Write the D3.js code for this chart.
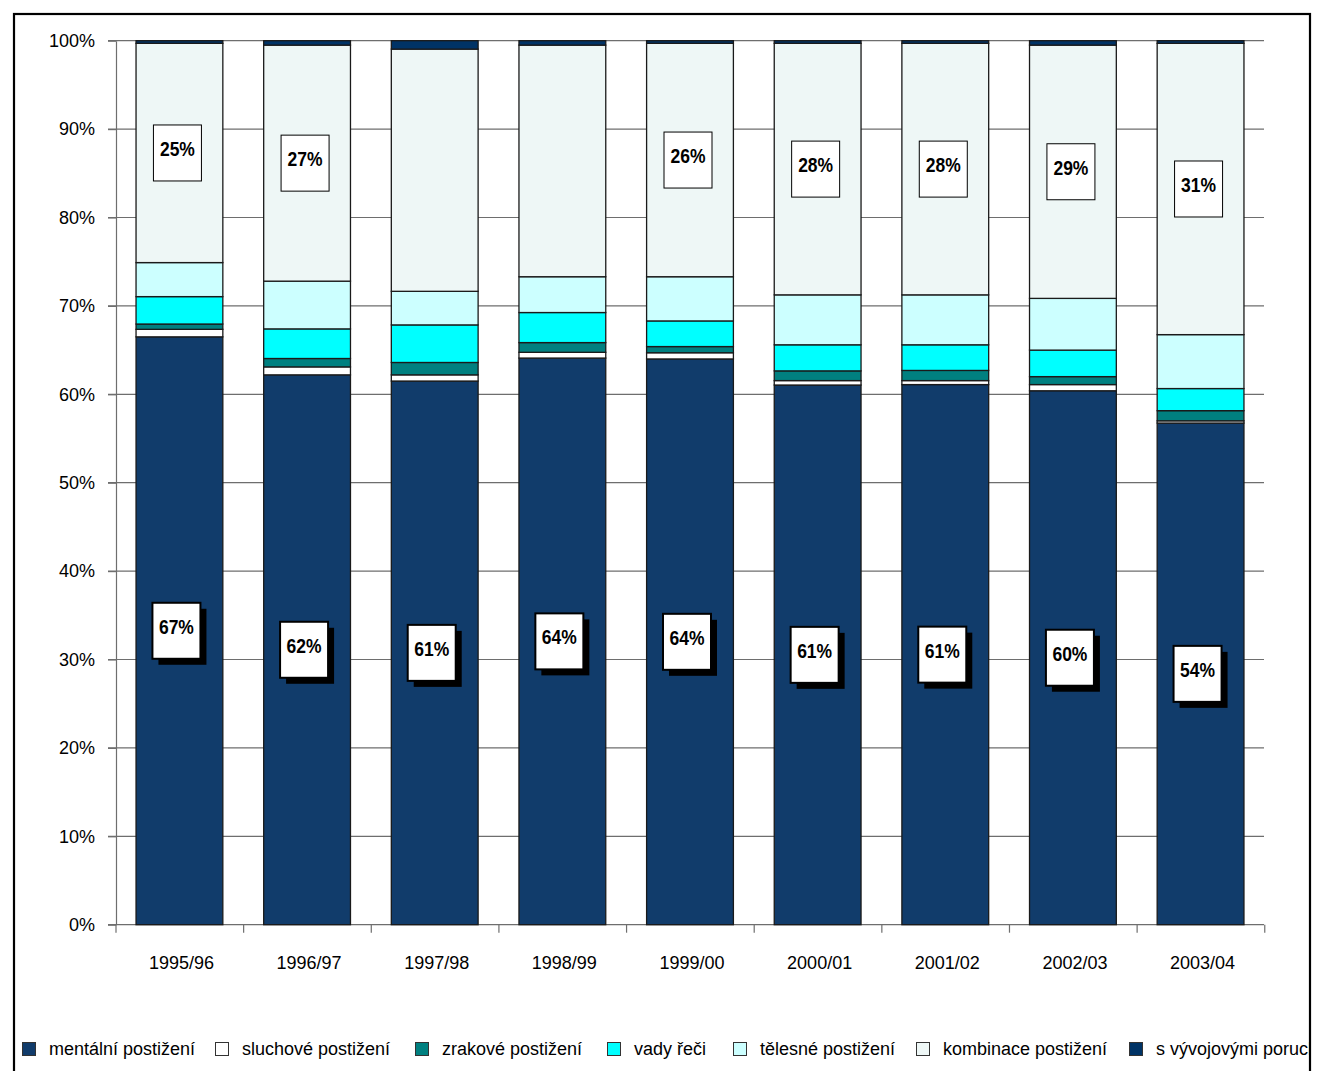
<!DOCTYPE html>
<html><head><meta charset="utf-8">
<script src="https://cdn.jsdelivr.net/npm/d3@7/dist/d3.min.js"></script>
<style>
body{margin:0;background:#fff;}
svg{display:block;}
text{font-family:"Liberation Sans",Arial,sans-serif;}
</style></head>
<body>
<svg id="chart" width="1325" height="1071"></svg>
<script>
// ---- data ----
const categories = ["1995/96","1996/97","1997/98","1998/99","1999/00","2000/01","2001/02","2002/03","2003/04"];
const seriesNames = ["mentální postižení","sluchové postižení","zrakové postižení","vady řeči","tělesné postižení","kombinace postižení","s vývojovými poruchami učení"];
const mental      = [66.5, 62.2, 61.5, 64.1, 64.0, 61.05, 61.1, 60.4, 56.75];
const hearing     = [0.85, 0.9, 0.7, 0.65, 0.7, 0.5, 0.45, 0.7, 0.25];
const visual      = [0.6, 0.95, 1.4, 1.1, 0.7, 1.1, 1.15, 0.9, 1.15];
const speech      = [3.1, 3.35, 4.25, 3.4, 2.9, 2.95, 2.9, 3.0, 2.5];
const physical    = [3.85, 5.4, 3.8, 4.05, 5.0, 5.65, 5.65, 5.85, 6.1];
const combined    = [24.8, 26.7, 27.4, 26.2, 26.4, 28.45, 28.45, 28.65, 32.95];
const developmental = [0.3, 0.5, 0.95, 0.5, 0.3, 0.3, 0.3, 0.5, 0.3];
const mentalLabels   = ["67%","62%","61%","64%","64%","61%","61%","60%","54%"];
const combinedLabels = ["25%","27%",null,null,"26%","28%","28%","29%","31%"];
const yTicks = [0,10,20,30,40,50,60,70,80,90,100];

// ---- styles / layout ----
const colors = ["#113c6b","#ffffff","#008080","#00ffff","#ccffff","#eef7f6","#003366"];
const legendX = [22,215,415,607,733,916,1129];

const seriesArrays = [mental,hearing,visual,speech,physical,combined,developmental];
const keys = seriesNames;
const rows = categories.map((c,i)=>{
  const r={cat:c};
  keys.forEach((k,j)=>r[k]=seriesArrays[j][i]);
  return r;
});
const stack = d3.stack().keys(keys)(rows);

const svg = d3.select("#chart");
const x = d3.scaleBand().domain(categories).range([116,1264]).paddingInner(0.32).paddingOuter(0.157);
const y = d3.scaleLinear().domain([0,100]).range([924.7,40.7]);
const step = x.step();

// outer frame
svg.append("rect").attr("x",14).attr("y",14).attr("width",1296).attr("height",1120)
  .attr("fill","none").attr("stroke","#000").attr("stroke-width",2.2);

// gridlines
svg.append("g").selectAll("line").data(yTicks.filter(d=>d>0)).join("line")
  .attr("x1",108).attr("x2",1264).attr("y1",d=>y(d)).attr("y2",d=>y(d))
  .attr("stroke","#6e6e6e").attr("stroke-width",1.2);

// y axis
const yAxis = svg.append("g").attr("transform","translate(116,0)")
  .call(d3.axisLeft(y).tickValues(yTicks).tickFormat(d=>d+"%").tickSize(8).tickSizeOuter(0));
yAxis.select(".domain").attr("stroke","#6e6e6e").attr("stroke-width",1.2);
yAxis.selectAll(".tick line").attr("stroke","#6e6e6e").attr("stroke-width",1.2);
yAxis.selectAll(".tick text").attr("x",-21).attr("font-size",18).attr("fill","#000")
  .style("font-family","'Liberation Sans',Arial,sans-serif");

// x axis baseline + tick marks at band edges
svg.append("line").attr("x1",108).attr("x2",1264).attr("y1",y(0)).attr("y2",y(0))
  .attr("stroke","#6e6e6e").attr("stroke-width",1.2);
const edges = d3.range(categories.length+1).map(i=>x.range()[0]+i*step);
svg.append("g").selectAll("line").data(edges).join("line")
  .attr("x1",d=>d).attr("x2",d=>d).attr("y1",y(0)).attr("y2",y(0)+8)
  .attr("stroke","#6e6e6e").attr("stroke-width",1.2);
svg.append("g").selectAll("text").data(categories).join("text")
  .attr("x",d=>x(d)+x.bandwidth()/2+2).attr("y",969)
  .attr("text-anchor","middle").attr("font-size",18).attr("fill","#000").text(d=>d);

// bars
stack.forEach((s,j)=>{
  svg.append("g").selectAll("rect").data(s).join("rect")
    .attr("x",d=>x(d.data.cat)).attr("width",x.bandwidth())
    .attr("y",d=>y(d[1])).attr("height",d=>y(d[0])-y(d[1]))
    .attr("fill",colors[j]).attr("stroke","#1a1a1a").attr("stroke-width",1.3);
});

// labels for kombinace (top)
const bw=48, bh=56;
const combS = stack[5];
combS.forEach((d,i)=>{
  if(!combinedLabels[i]) return;
  const cx = x(d.data.cat)+x.bandwidth()/2-2;
  const cy = (y(d[0])+y(d[1]))/2;
  svg.append("rect").attr("x",cx-bw/2).attr("y",cy-bh/2).attr("width",bw).attr("height",bh)
    .attr("fill","#fff").attr("stroke","#000").attr("stroke-width",1);
  svg.append("text").attr("x",cx).attr("y",cy-4).attr("dy","0.35em")
    .attr("text-anchor","middle").attr("font-size",20).attr("font-weight","bold")
    .attr("textLength",35).attr("lengthAdjust","spacingAndGlyphs").text(combinedLabels[i]);
});
// labels for mental (bottom) with shadow
const mentS = stack[0];
mentS.forEach((d,i)=>{
  const cx = x(d.data.cat)+x.bandwidth()/2-3;
  const cy = (y(d[0])+y(d[1]))/2;
  svg.append("rect").attr("x",cx-bw/2+6).attr("y",cy-bh/2+6).attr("width",bw).attr("height",bh)
    .attr("fill","#000");
  svg.append("rect").attr("x",cx-bw/2).attr("y",cy-bh/2).attr("width",bw).attr("height",bh)
    .attr("fill","#fff").attr("stroke","#000").attr("stroke-width",2);
  svg.append("text").attr("x",cx).attr("y",cy-4).attr("dy","0.35em")
    .attr("text-anchor","middle").attr("font-size",20).attr("font-weight","bold")
    .attr("textLength",35).attr("lengthAdjust","spacingAndGlyphs").text(mentalLabels[i]);
});

// legend
const clip = svg.append("clipPath").attr("id","lc").append("rect").attr("x",0).attr("y",0).attr("width",1309).attr("height",1071);
const lg = svg.append("g").attr("clip-path","url(#lc)");
seriesNames.forEach((n,j)=>{
  const lx = legendX[j];
  lg.append("rect").attr("x",lx+0.5).attr("y",1042.5).attr("width",13).attr("height",13)
    .attr("fill",colors[j]).attr("stroke","#333").attr("stroke-width",1);
  lg.append("text").attr("x",lx+27).attr("y",1055).attr("font-size",18).attr("fill","#000").text(n);
});
</script>
</body></html>
